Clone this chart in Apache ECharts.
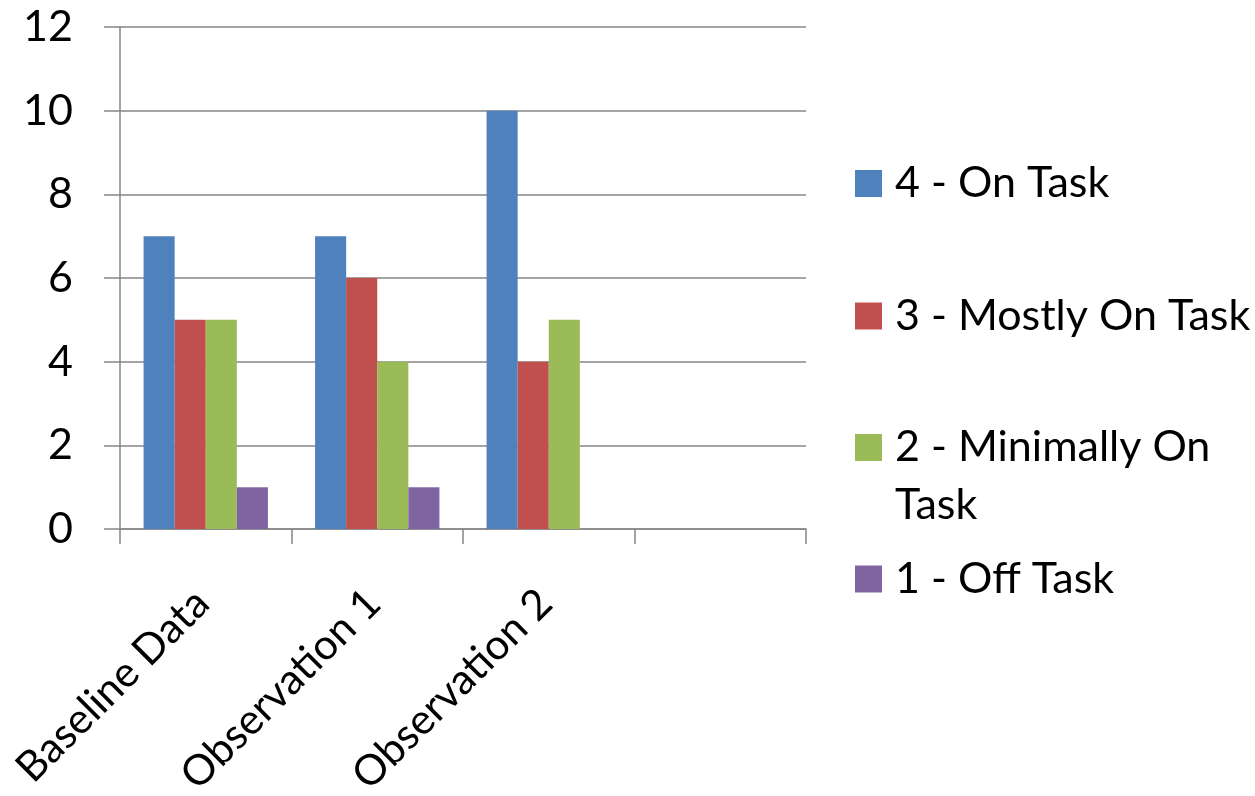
<!DOCTYPE html>
<html>
<head>
<meta charset="utf-8">
<script src="https://cdn.jsdelivr.net/npm/echarts@6/dist/echarts.min.js"></script>
<style>
html,body{margin:0;padding:0;background:#fff;}
#chart{width:1255px;height:796px;}
</style>
</head>
<body>
<div id="chart"></div>
<script>
const categories = ['Baseline Data', 'Observation 1', 'Observation 2', ''];
const seriesNames = ['4 - On Task', '3 - Mostly On Task', '2 - Minimally On Task', '1 - Off Task'];
const onTask = [7, 7, 10, null];
const mostlyOnTask = [5, 6, 4, null];
const minimallyOnTask = [5, 4, 5, null];
const offTask = [1, 1, 0, null];
const yTicks = [0, 2, 4, 6, 8, 10, 12];

const colors = ['#4F81BD', '#C0504D', '#9BBB59', '#8064A2'];
const values = [onTask, mostlyOnTask, minimallyOnTask, offTask];
const FONT = 'Lato';
const FS = 43;
const axisColor = '#868686';

const legendTops = [154.5, 287, 360.5, 550];
const legends = seriesNames.map((n, i) => {
  const isWrap = i === 2;
  return {
    left: 855,
    top: legendTops[i],
    padding: 0,
    orient: 'vertical',
    itemWidth: 27,
    itemHeight: 27,
    icon: 'rect',
    selectedMode: false,
    data: [n],
    formatter: isWrap ? '{e|}\n{t|2 - Minimally On}\n{t|Task}' : '{t|{name}}',
    textStyle: {
      fontFamily: FONT,
      fontSize: FS,
      color: '#000',
      lineHeight: 58,
      rich: {
        t: {fontFamily: FONT, fontSize: FS, color: '#000', lineHeight: 58, padding: [0, 0, 0, 8]},
        e: {fontFamily: FONT, fontSize: FS, lineHeight: 58}
      }
    }
  };
});

const chart = echarts.init(document.getElementById('chart'), null, {renderer: 'canvas'});
chart.setOption({
  animation: false,
  backgroundColor: '#fff',
  color: colors,
  legend: legends,
  grid: {left: 120, right: 449, top: 27, bottom: 267, containLabel: false, outerBoundsMode: 'none'},
  xAxis: {
    type: 'category',
    data: categories,
    boundaryGap: true,
    axisLine: {lineStyle: {color: axisColor, width: 1.5}},
    axisTick: {show: true, length: 15, alignWithLabel: false, lineStyle: {color: axisColor, width: 1.5}},
    axisLabel: {
      rotate: 45,
      interval: 0,
      margin: 64,
      padding: [0, 5, 0, 0],
      fontFamily: FONT,
      fontSize: 42,
      color: '#000'
    },
    splitLine: {show: false}
  },
  yAxis: {
    type: 'value',
    min: yTicks[0],
    max: yTicks[yTicks.length - 1],
    interval: 2,
    axisLine: {show: true, lineStyle: {color: axisColor, width: 1.5}},
    axisTick: {show: true, length: 16, lineStyle: {color: axisColor, width: 1.5}},
    axisLabel: {margin: 47, fontFamily: FONT, fontSize: FS, color: '#000'},
    splitLine: {show: true, lineStyle: {color: axisColor, width: 1.5}}
  },
  series: seriesNames.map((n, i) => ({
    name: n,
    type: 'bar',
    data: values[i],
    barGap: '0%',
    barCategoryGap: '27.5%',
    itemStyle: {color: colors[i]}
  }))
});
</script>
</body>
</html>
